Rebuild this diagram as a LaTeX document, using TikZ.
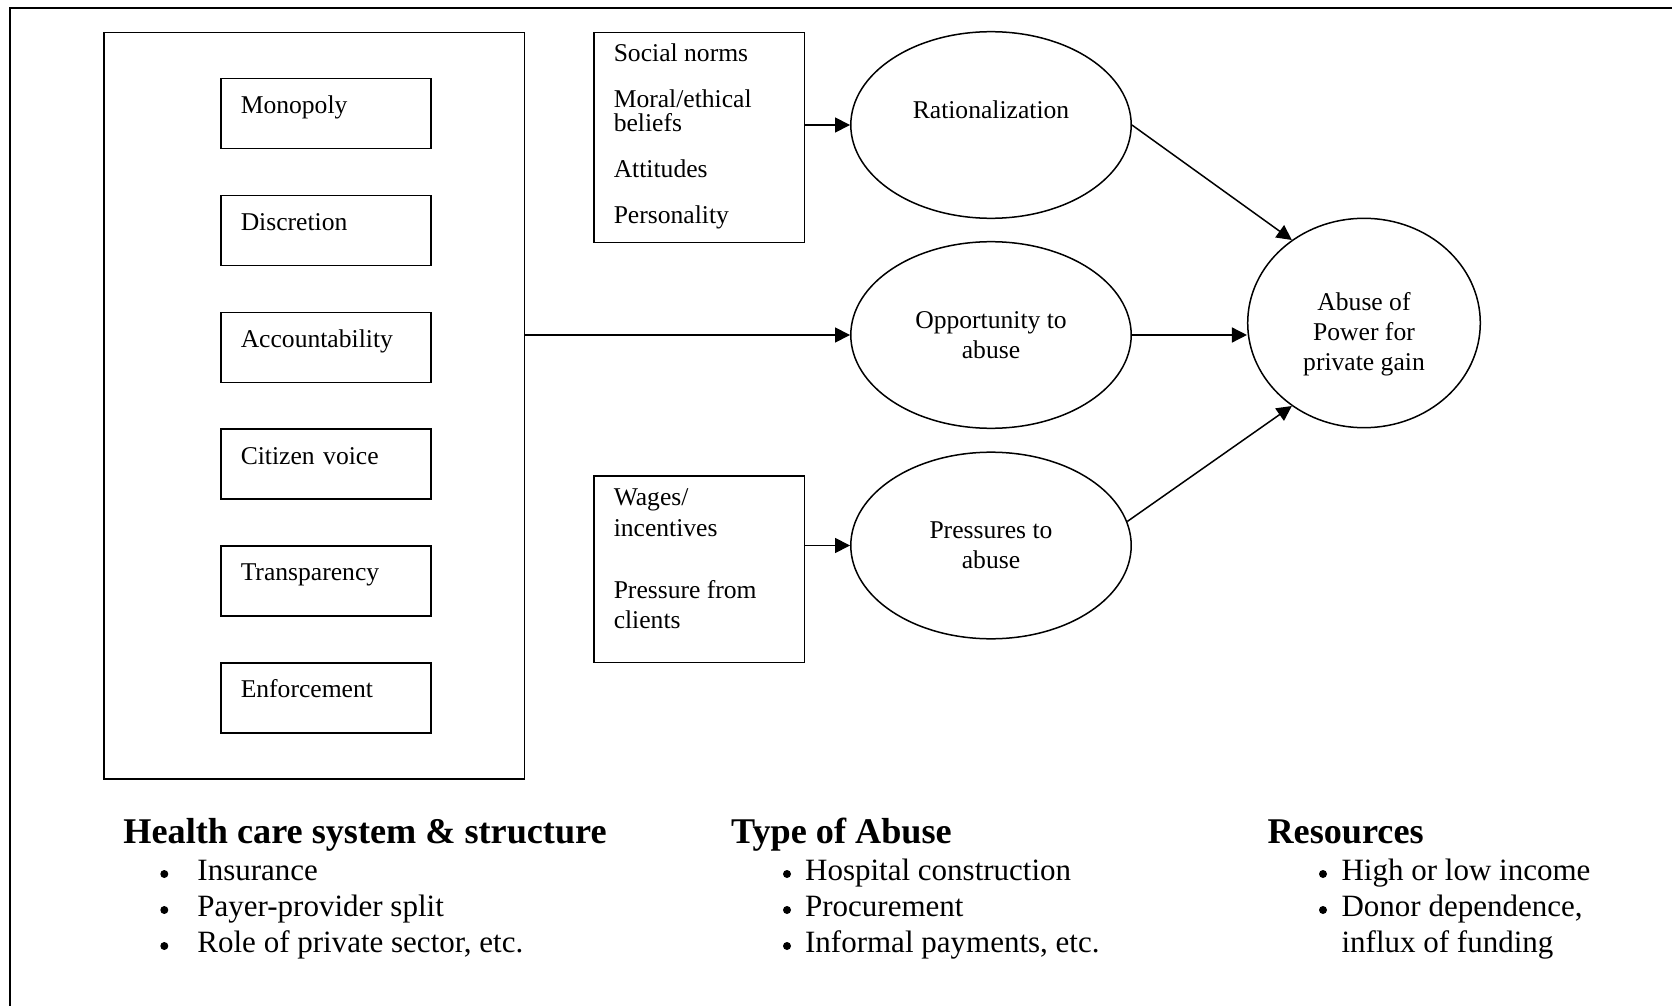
\documentclass[tikz,border=0pt]{standalone}
\usepackage{fontspec}
\setmainfont{Liberation Serif}
\usetikzlibrary{shapes.geometric,arrows.meta}
\begin{document}
\begin{tikzpicture}[x=0.5pt,y=-0.5pt,
  line width=0.75pt,
  every node/.style={font=\fontsize{12.8}{15}\selectfont, inner sep=0pt},
  frameline/.style={line width=1.1pt},
  bigbox/.style={draw, anchor=north west, minimum width=210.25pt, minimum height=373pt},
  smallbox/.style={draw, anchor=north west, minimum width=105pt, minimum height=35pt,
     align=left, text width=85pt, inner xsep=10pt, inner ysep=0pt,
     text height=17.5pt, text depth=17.5pt},
  factorbox/.style={draw, anchor=north west, minimum width=105.25pt},
  factortxt/.style={anchor=base west},
  oval/.style={draw, ellipse, minimum width=140.2pt, minimum height=93.3pt, align=center},
  goal/.style={draw, ellipse, minimum width=116.3pt, minimum height=104.7pt},
  arr/.style={-{Triangle[length=7.5pt,width=7.5pt]}},
  head/.style={anchor=base west, font=\fontsize{18.1}{20}\selectfont\bfseries},
  item/.style={anchor=base west, font=\fontsize{15.5}{18}\selectfont},
  dot/.style={circle, fill, minimum size=4pt, inner sep=0pt},
]
\useasboundingbox (0,0) rectangle (1672,1006);

% outer frame
\draw[frameline] (1672,8) -- (10,8) -- (10,1006);

% left structural box
\node[bigbox] (big) at (103,32) {};
\node[smallbox] (mono) at (220,78) {Monopoly};
\node[smallbox] (disc) at (220,194.8) {Discretion};
\node[smallbox] (acc) at (220,311.6) {Accountability};
\node[smallbox] (cit) at (220,428.4) {Citizen voice};
\node[smallbox] (tra) at (220,545.2) {Transparency};
\node[smallbox] (enf) at (220,662) {Enforcement};

% factor boxes
\node[factorbox, minimum height=105pt] (soc) at (593.4,31.7) {};
\node[factortxt] (sn1) at (613,62) {Social norms};
\node[factortxt] (sn2) at (613,107.5) {Moral/ethical};
\node[factortxt] (sn3) at (613,131.5) {beliefs};
\node[factortxt] (sn4) at (613,177.5) {Attitudes};
\node[factortxt] (sn5) at (613,224) {Personality};

\node[factorbox, minimum height=93.35pt] (wag) at (593.4,475) {};
\node[factortxt] (wg1) at (613,505) {Wages/};
\node[factortxt] (wg2) at (613,536) {incentives};
\node[factortxt] (wg3) at (613,598) {Pressure from};
\node[factortxt] (wg4) at (613,628) {clients};

% ellipses
\node[oval, text height=9pt, text depth=15pt] (rat) at (991,125) {Rationalization};
\node[oval] (opp) at (991,335) {Opportunity to\\abuse};
\node[oval] (press) at (991,545.5) {Pressures to\\abuse};

% outcome
\node[goal] (abuse) at (1364,323) {};
\node[align=center] (abusetxt) at (1364,334) {Abuse of\\Power for\\private gain};

% connectors
\draw[arr] (rat.west -| soc.east) -- (rat.west);
\draw[arr] (opp.west -| big.east) -- (opp.west);
\draw[arr] (press.west -| wag.east) -- (press.west);
\draw[arr] (rat.east) -- (abuse.131);
\draw[arr] (opp.east) -- (opp.east -| abuse.west);
\draw[arr] (press.10.5) -- (abuse.229);

% bottom lists
\node[head] (h1) at (122.7,843) {Health care system \& structure};
\node[item] (h1a) at (196.7,880) {Insurance};
\node[item] (h1b) at (196.7,916) {Payer-provider split};
\node[item] (h1c) at (196.7,952) {Role of private sector, etc.};
\node[dot] (b1a) at (164.3,874) {};
\node[dot] (b1b) at (164.3,910) {};
\node[dot] (b1c) at (164.3,946) {};

\node[head] (h2) at (730.4,843) {Type of Abuse};
\node[item] (h2a) at (804.4,880) {Hospital construction};
\node[item] (h2b) at (804.4,916) {Procurement};
\node[item] (h2c) at (804.4,952) {Informal payments, etc.};
\node[dot] (b2a) at (787,874) {};
\node[dot] (b2b) at (787,910) {};
\node[dot] (b2c) at (787,946) {};

\node[head] (h3) at (1266.8,843) {Resources};
\node[item] (h3a) at (1340.8,880) {High or low income};
\node[item] (h3b) at (1340.8,916) {Donor dependence,};
\node[item] (h3c) at (1340.8,952) {influx of funding};
\node[dot] (b3a) at (1323,874) {};
\node[dot] (b3b) at (1323,910) {};
\end{tikzpicture}
\end{document}
